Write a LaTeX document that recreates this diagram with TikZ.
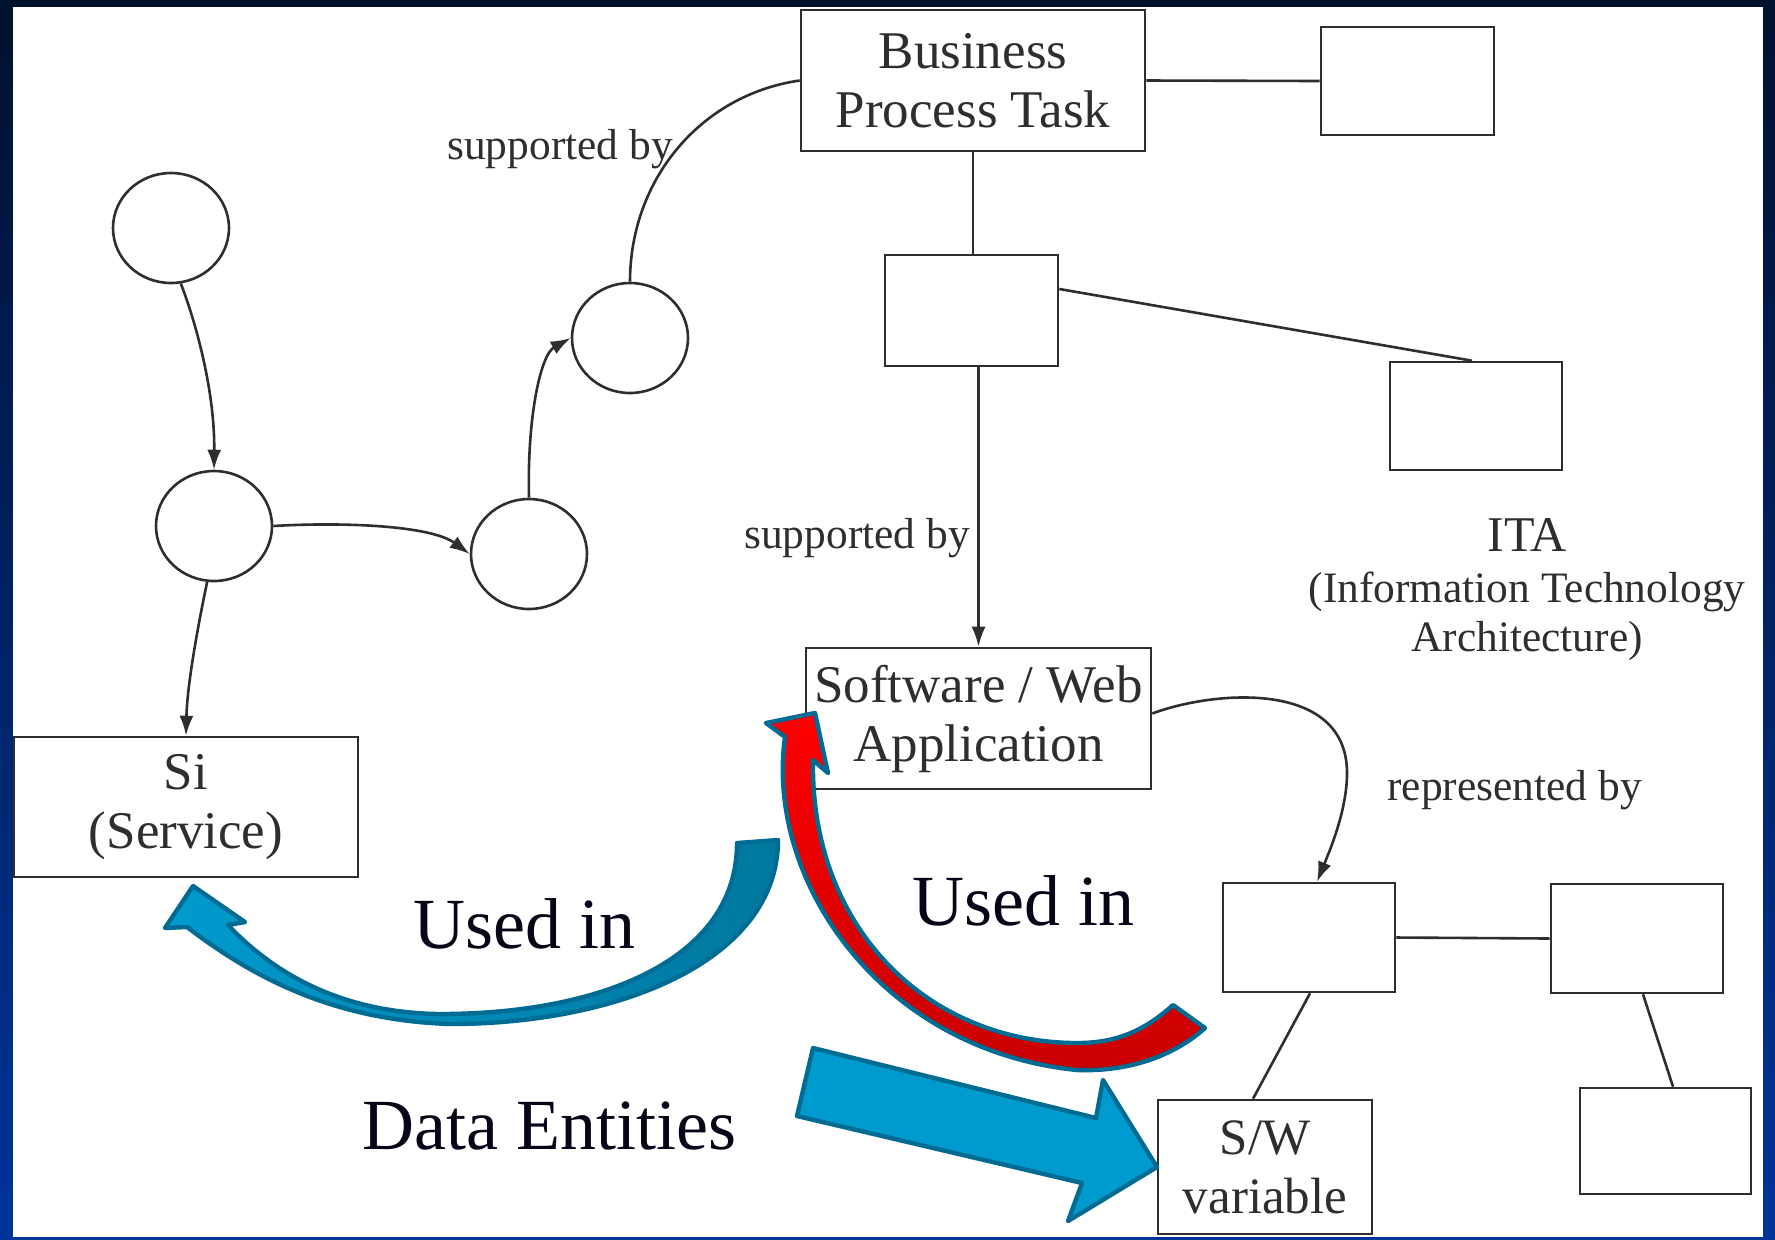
\documentclass[tikz,border=0pt]{standalone}
\usepackage{fontspec}
\setmainfont{Liberation Serif}
\usetikzlibrary{shapes.geometric,arrows.meta,calc}
\definecolor{navytop}{HTML}{00112E}
\definecolor{navybot}{HTML}{00349A}
\definecolor{inkgray}{HTML}{2E2E2E}
\definecolor{arrowline}{HTML}{006B93}
\definecolor{bluelight}{HTML}{009BCE}
\definecolor{bluedark}{HTML}{00789F}
\definecolor{redlight}{HTML}{FF0000}
\definecolor{reddark}{HTML}{C80000}
\definecolor{bigtext}{HTML}{060618}
\newcommand\dgboxfont{\fontsize{26.5pt}{29.5pt}\selectfont}
\newcommand\dglabfont{\fontsize{21.7pt}{25pt}\selectfont}
\newcommand\dgitafont{\fontsize{25pt}{28pt}\selectfont}
\newcommand\dgbigfont{\fontsize{36pt}{40pt}\selectfont}
\begin{document}
\begin{tikzpicture}[x=0.5pt,y=-0.5pt,
  rbox/.style={draw=inkgray,line width=1.3pt,fill=white,inner sep=0pt,align=center,font=\dgboxfont,text=inkgray},
  oval/.style={ellipse,draw=inkgray,line width=1.3pt,fill=white,inner sep=0pt,minimum width=58pt,minimum height=55pt},
  conn/.style={draw=inkgray,line width=1.3pt},
  tipped/.style={conn,-{Latex[length=10pt,width=7pt]}},
  lab/.style={font=\dglabfont,text=inkgray,inner sep=0pt},
  bigarrow/.style={draw=arrowline,line width=2.2pt,line join=round},
  bigtxt/.style={font=\dgbigfont,text=bigtext,inner sep=0pt}]
% background
\fill[top color=navytop,bottom color=navybot] (0,0) rectangle (1775,1239);
\fill[white] (13,7) rectangle (1763,1237);
\useasboundingbox (0,0) rectangle (1775,1239);
% boxes
\node[rbox,minimum width=172pt,minimum height=70.5pt] (bpt) at (973,80.5) {Business\\Process Task};
\node[rbox,minimum width=86.5pt,minimum height=54pt] (tr) at (1407.5,81) {};
\node[rbox,minimum width=86.5pt,minimum height=55.5pt] (mid) at (971.5,310.5) {};
\node[rbox,minimum width=86pt,minimum height=54pt] (ita) at (1476,416) {};
\node[rbox,minimum width=172.5pt,minimum height=70.5pt] (swapp) at (978.5,718.5) {Software / Web\\Application};
\node[rbox,minimum width=172pt,minimum height=70pt] (si) at (186,807) {Si\\(Service)};
\node[rbox,minimum width=86pt,minimum height=54.5pt] (ra) at (1309,937.5) {};
\node[rbox,minimum width=86pt,minimum height=54.5pt] (rb) at (1637,938.5) {};
\node[rbox,minimum width=85.5pt,minimum height=53pt] (rc) at (1665.5,1141) {};
\node[rbox,minimum width=107pt,minimum height=67pt,font=\fontsize{25.5pt}{29.5pt}\selectfont] (swvar) at (1265,1167) {S/W\\variable};
% circles
\node[oval] (c1) at (171,228) {};
\node[oval] (c2) at (214,526) {};
\node[oval] (c3) at (529,554) {};
\node[oval] (c4) at (630,338) {};
% connectors
\draw[tipped] (c1.-80) .. controls (195,320) and (215,390) .. (c2.north);
\draw[tipped] (c2.east) .. controls (340,522) and (430,525) .. (c3.west);
\draw[tipped] (c3.north) .. controls (527,420) and (540,355) .. (c4.west);
\draw[conn] (c4.north) .. controls (630,180) and (700,95) .. (bpt.west);
\draw[tipped] (c2.-97) .. controls (195,640) and (187,690) .. (si.north);
\draw[conn] (bpt.south) -- (bpt.south |- mid.north);
\draw[conn] (bpt.east) -- (tr.west);
\draw[conn] ($(mid.east)+(0,-21.5)$) -- ($(ita.north)+(-4,0)$);
\draw[tipped] (swapp.north |- mid.south) -- (swapp.north);
\coordinate (bend) at (1347,773);
\draw[tipped] ($(swapp.east)+(0,-5)$) .. controls (1215,690) and (1347,680) .. (bend) .. controls (1347,810) and (1330,850) .. ($(ra.north)+(8,0)$);
\draw[conn] (ra.east) -- (rb.west);
\draw[conn] ($(ra.south)+(1,0)$) -- ($(swvar.north)+(-12,0)$);
\draw[conn] ($(rb.south)+(6,0)$) -- ($(rc.north)+(7.5,0)$);
% labels
\node[lab,anchor=base west] (sup1) at (447,159) {supported by};
\node[lab,anchor=base west] (sup2) at (744,548) {supported by};
\node[lab,anchor=base west] (rep) at (1387,800) {represented by};
\node[lab,anchor=base,font=\dgitafont] (itaA) at (1527,551) {ITA};
\node[lab,anchor=base] (itaB) at (1527,602) {(Information Technology};
\node[lab,anchor=base] (itaC) at (1527,651) {Architecture)};
% big blue curved arrow (to Si)
\draw[bigarrow,left color=bluelight,right color=bluedark]
  (737,843) -- (778,840) .. controls (778,960) and (620,1024) .. (450,1024)
  .. controls (330,1020) and (250,975) .. (187,927) -- (165,928) -- (193,886)
  -- (245,922) -- (228,925) .. controls (280,980) and (350,1013) .. (440,1014)
  .. controls (600,1014) and (737,960) .. (737,843) -- cycle;
% red curved arrow (to Software / Web Application)
\draw[bigarrow,top color=redlight,bottom color=reddark]
  (1173,1005) .. controls (1140,1035) and (1110,1043) .. (1077,1043)
  .. controls (930,1043) and (810,930) .. (813,760) -- (828,773) -- (815,713)
  -- (766,723) -- (785,737) .. controls (765,880) and (880,1050) .. (1077,1070)
  .. controls (1130,1072) and (1175,1055) .. (1205,1028) -- cycle;
% straight blue arrow (to S/W variable)
\draw[bigarrow,fill=bluelight]
  (813,1048) -- (1096,1118) -- (1103,1080) -- (1157,1167) -- (1068,1221)
  -- (1082,1183) -- (797,1116) -- cycle;
% big texts
\node[bigtxt,anchor=base west] (used1) at (413,948) {Used in};
\node[bigtxt,anchor=base west] (used2) at (912,925) {Used in};
\node[bigtxt,anchor=base west] (data) at (362,1149) {Data Entities};
\end{tikzpicture}
\end{document}
